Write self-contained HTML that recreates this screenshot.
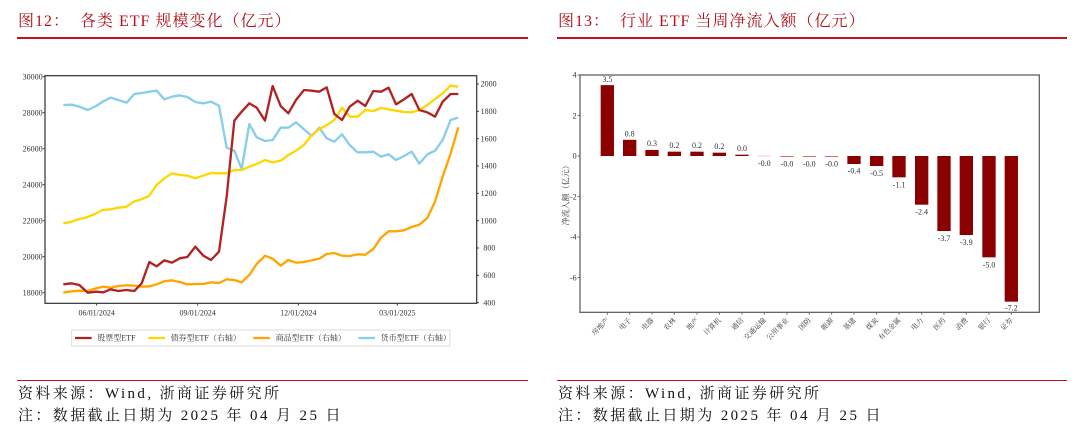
<!DOCTYPE html>
<html><head><meta charset="utf-8"><style>
body{margin:0;width:1080px;height:448px;background:#fff;position:relative;overflow:hidden;font-family:"Liberation Serif","Noto Serif CJK SC",serif}
.t{position:absolute;top:8px;font-size:16px;color:#b5121b;white-space:pre;letter-spacing:1px}
.ln{position:absolute;background:#c0141e}
.f{position:absolute;font-size:15px;color:#111;white-space:pre;letter-spacing:2.4px}
svg{position:absolute}
svg text{font-family:"Liberation Serif","Noto Serif CJK SC",serif}
</style></head><body>
<div class="t" style="left:18px">图12：  各类 ETF 规模变化（亿元）</div>
<div class="t" style="left:558px">图13：  行业 ETF 当周净流入额（亿元）</div>
<div class="ln" style="left:17px;top:37px;width:511px;height:2px"></div>
<div class="ln" style="left:557px;top:37px;width:510px;height:2px"></div>
<div class="ln" style="left:17px;top:380px;width:511px;height:1px"></div>
<div class="ln" style="left:557px;top:380px;width:510px;height:1px"></div>
<div class="f" style="left:18px;top:382px">资料来源：Wind, 浙商证券研究所</div>
<div class="f" style="left:18px;top:404px">注：数据截止日期为 2025 年 04 月 25 日</div>
<div class="f" style="left:558px;top:382px">资料来源：Wind, 浙商证券研究所</div>
<div class="f" style="left:558px;top:404px">注：数据截止日期为 2025 年 04 月 25 日</div>

<svg style="left:20px;top:60px" width="480" height="290" viewBox="0 0 1440 870">
<rect x="75" y="47" width="1295" height="683" fill="none" stroke="#444" stroke-width="4"/>
<g font-size="24" fill="#333" text-anchor="end">
<text x="68" y="58">30000</text><text x="68" y="166">28000</text><text x="68" y="274">26000</text><text x="68" y="382">24000</text><text x="68" y="490">22000</text><text x="68" y="598">20000</text><text x="68" y="706">18000</text>
</g>
<g stroke="#444" stroke-width="3"><line x1="68" y1="50" x2="75" y2="50"/><line x1="68" y1="158" x2="75" y2="158"/><line x1="68" y1="266" x2="75" y2="266"/><line x1="68" y1="374" x2="75" y2="374"/><line x1="68" y1="482" x2="75" y2="482"/><line x1="68" y1="590" x2="75" y2="590"/><line x1="68" y1="698" x2="75" y2="698"/>
<line x1="1370" y1="72" x2="1377" y2="72"/><line x1="1370" y1="154" x2="1377" y2="154"/><line x1="1370" y1="236" x2="1377" y2="236"/><line x1="1370" y1="318" x2="1377" y2="318"/><line x1="1370" y1="400" x2="1377" y2="400"/><line x1="1370" y1="482" x2="1377" y2="482"/><line x1="1370" y1="564" x2="1377" y2="564"/><line x1="1370" y1="646" x2="1377" y2="646"/><line x1="1370" y1="728" x2="1377" y2="728"/>
<line x1="230" y1="730" x2="230" y2="737"/><line x1="533" y1="730" x2="533" y2="737"/><line x1="835" y1="730" x2="835" y2="737"/><line x1="1132" y1="730" x2="1132" y2="737"/></g>
<g font-size="24" fill="#333">
<text x="1382" y="80">2000</text><text x="1382" y="162">1800</text><text x="1382" y="244">1600</text><text x="1382" y="326">1400</text><text x="1382" y="408">1200</text><text x="1382" y="490">1000</text><text x="1390" y="572">800</text><text x="1390" y="654">600</text><text x="1390" y="736">400</text>
</g>
<g font-size="24" fill="#333" text-anchor="middle">
<text x="230" y="766">06/01/2024</text><text x="533" y="766">09/01/2024</text><text x="835" y="766">12/01/2024</text><text x="1132" y="766">03/01/2025</text>
</g>
<g fill="none" stroke-width="7" stroke-linejoin="round">
<polyline stroke="#87ceeb" points="130,135 155,134 178,140 203,150 228,138 250,124 272,113 295,120 320,128 343,102 365,99 388,95 410,92 433,118 456,110 479,106 502,111 526,126 550,130 573,125 597,137 620,263 643,272 665,327 688,192 710,232 735,243 758,240 782,203 805,203 828,187 852,208 875,228 898,203 920,235 943,245 966,223 989,255 1013,277 1036,277 1060,275 1083,290 1106,283 1128,300 1152,288 1175,275 1198,311 1222,283 1245,272 1268,240 1292,180 1315,173"/>
<polyline stroke="#ffd700" points="130,490 152,486 178,477 200,472 225,462 248,450 272,448 295,443 318,441 341,425 364,418 387,408 410,375 433,355 456,340 480,345 503,347 526,355 549,347 573,339 597,340 620,340 643,330 665,330 688,320 710,312 735,300 758,307 782,302 805,285 828,272 852,255 875,225 898,208 920,195 943,180 966,143 989,170 1013,170 1036,150 1060,153 1083,144 1106,148 1128,152 1152,156 1175,157 1198,150 1222,135 1245,117 1268,100 1292,77 1315,80"/>
<polyline stroke="#ffa500" points="130,698 155,694 178,692 203,693 228,685 250,680 272,683 295,678 320,676 343,677 365,680 388,679 410,673 433,664 456,661 479,666 502,673 526,672 550,672 573,667 597,669 620,658 643,660 665,667 688,645 710,612 735,587 758,596 782,617 805,600 828,608 852,606 875,601 898,596 920,582 943,579 966,587 989,588 1013,583 1036,584 1060,567 1083,533 1106,514 1128,514 1152,511 1175,501 1198,494 1222,474 1245,425 1268,350 1292,280 1315,202"/>
<polyline stroke="#b22222" points="130,673 155,670 178,675 203,698 228,695 250,697 272,688 295,693 320,690 343,693 365,670 388,606 410,619 433,601 456,608 479,595 502,591 526,560 550,587 573,600 597,575 620,410 643,182 665,155 688,130 710,143 735,182 758,78 782,138 805,160 828,120 852,90 875,92 898,95 920,82 943,162 966,180 989,140 1013,122 1036,138 1060,93 1083,95 1106,83 1128,133 1152,118 1175,102 1198,150 1222,157 1245,170 1268,125 1292,102 1315,102"/>
</g>
<rect x="155" y="810" width="1135" height="48" fill="#fff" stroke="#ddd" stroke-width="3"/>
<g stroke-width="7"><line x1="165" y1="834" x2="215" y2="834" stroke="#b22222"/><line x1="385" y1="834" x2="435" y2="834" stroke="#ffd700"/><line x1="700" y1="834" x2="750" y2="834" stroke="#ffa500"/><line x1="1015" y1="834" x2="1065" y2="834" stroke="#87ceeb"/></g>
<g font-size="24" fill="#333"><text x="232" y="842">股票型ETF</text><text x="452" y="842">债券型ETF（右轴）</text><text x="767" y="842">商品型ETF（右轴）</text><text x="1082" y="842">货币型ETF（右轴）</text></g>
</svg>

<svg style="left:560px;top:60px" width="480" height="290" viewBox="0 0 1440 870">
<rect x="60" y="45" width="1378" height="712" fill="none" stroke="#666" stroke-width="4"/>
<g stroke="#666" stroke-width="3"><line x1="53" y1="45" x2="60" y2="45"/><line x1="53" y1="166.5" x2="60" y2="166.5"/><line x1="53" y1="288" x2="60" y2="288"/><line x1="53" y1="409.5" x2="60" y2="409.5"/><line x1="53" y1="531" x2="60" y2="531"/><line x1="53" y1="652.5" x2="60" y2="652.5"/></g>
<g font-size="24" fill="#333" text-anchor="end"><text x="50" y="53">4</text><text x="50" y="175">2</text><text x="50" y="296">0</text><text x="50" y="418">-2</text><text x="50" y="539">-4</text><text x="50" y="661">-6</text></g>
<text transform="translate(26,400) rotate(-90)" font-size="24" fill="#333" text-anchor="middle">净流入额（亿元）</text>
<g fill="#8b0000">
<rect x="122" y="75.4" width="40" height="212.6"/><rect x="189" y="239.4" width="40" height="48.6"/><rect x="256" y="269.8" width="40" height="18.2"/><rect x="323" y="275" width="40" height="13"/><rect x="391" y="275" width="40" height="13"/><rect x="458" y="278" width="40" height="10"/><rect x="526" y="284" width="40" height="4"/>
<rect x="862" y="288" width="40" height="24"/><rect x="930" y="288" width="40" height="30"/><rect x="997" y="288" width="40" height="64"/><rect x="1065" y="288" width="40" height="146"/><rect x="1132" y="288" width="40" height="225"/><rect x="1199" y="288" width="40" height="237"/><rect x="1267" y="288" width="40" height="304"/><rect x="1334" y="288" width="40" height="437"/>
</g>
<g fill="#d66"><rect x="593" y="287" width="40" height="2" fill="#f0b0b0"/><rect x="661" y="288" width="40" height="3"/><rect x="728" y="288" width="40" height="3"/><rect x="795" y="288" width="40" height="3"/></g>
<g font-size="24" fill="#333" text-anchor="middle">
<text x="142" y="66">3.5</text><text x="209" y="230">0.8</text><text x="276" y="258">0.3</text><text x="343" y="264">0.2</text><text x="411" y="264">0.2</text><text x="478" y="267">0.2</text><text x="546" y="273">0.0</text>
<text x="613" y="318">-0.0</text><text x="681" y="320">-0.0</text><text x="748" y="320">-0.0</text><text x="815" y="320">-0.0</text><text x="882" y="340">-0.4</text><text x="950" y="348">-0.5</text><text x="1017" y="382">-1.1</text><text x="1085" y="464">-2.4</text><text x="1152" y="543">-3.7</text><text x="1219" y="555">-3.9</text><text x="1287" y="622">-5.0</text><text x="1354" y="752">-7.2</text>
</g>
<g stroke="#666" stroke-width="3"><line x1="142" y1="757" x2="142" y2="764"/><line x1="209" y1="757" x2="209" y2="764"/><line x1="276" y1="757" x2="276" y2="764"/><line x1="343" y1="757" x2="343" y2="764"/><line x1="411" y1="757" x2="411" y2="764"/><line x1="478" y1="757" x2="478" y2="764"/><line x1="546" y1="757" x2="546" y2="764"/><line x1="613" y1="757" x2="613" y2="764"/><line x1="681" y1="757" x2="681" y2="764"/><line x1="748" y1="757" x2="748" y2="764"/><line x1="815" y1="757" x2="815" y2="764"/><line x1="882" y1="757" x2="882" y2="764"/><line x1="950" y1="757" x2="950" y2="764"/><line x1="1017" y1="757" x2="1017" y2="764"/><line x1="1085" y1="757" x2="1085" y2="764"/><line x1="1152" y1="757" x2="1152" y2="764"/><line x1="1219" y1="757" x2="1219" y2="764"/><line x1="1287" y1="757" x2="1287" y2="764"/><line x1="1354" y1="757" x2="1354" y2="764"/></g>
<g font-size="21" fill="#333" text-anchor="end">
<text transform="translate(148,782) rotate(-45)">房地产</text><text transform="translate(215,782) rotate(-45)">电子</text><text transform="translate(282,782) rotate(-45)">电器</text><text transform="translate(349,782) rotate(-45)">农林</text><text transform="translate(417,782) rotate(-45)">地产</text><text transform="translate(484,782) rotate(-45)">计算机</text><text transform="translate(552,782) rotate(-45)">通信</text><text transform="translate(619,782) rotate(-45)">交通运输</text><text transform="translate(687,782) rotate(-45)">公用事业</text><text transform="translate(754,782) rotate(-45)">国防</text><text transform="translate(821,782) rotate(-45)">能源</text><text transform="translate(888,782) rotate(-45)">基建</text><text transform="translate(956,782) rotate(-45)">煤炭</text><text transform="translate(1023,782) rotate(-45)">有色金属</text><text transform="translate(1091,782) rotate(-45)">电力</text><text transform="translate(1158,782) rotate(-45)">医药</text><text transform="translate(1225,782) rotate(-45)">消费</text><text transform="translate(1293,782) rotate(-45)">银行</text><text transform="translate(1360,782) rotate(-45)">证券</text>
</g>
</svg>
</body></html>
